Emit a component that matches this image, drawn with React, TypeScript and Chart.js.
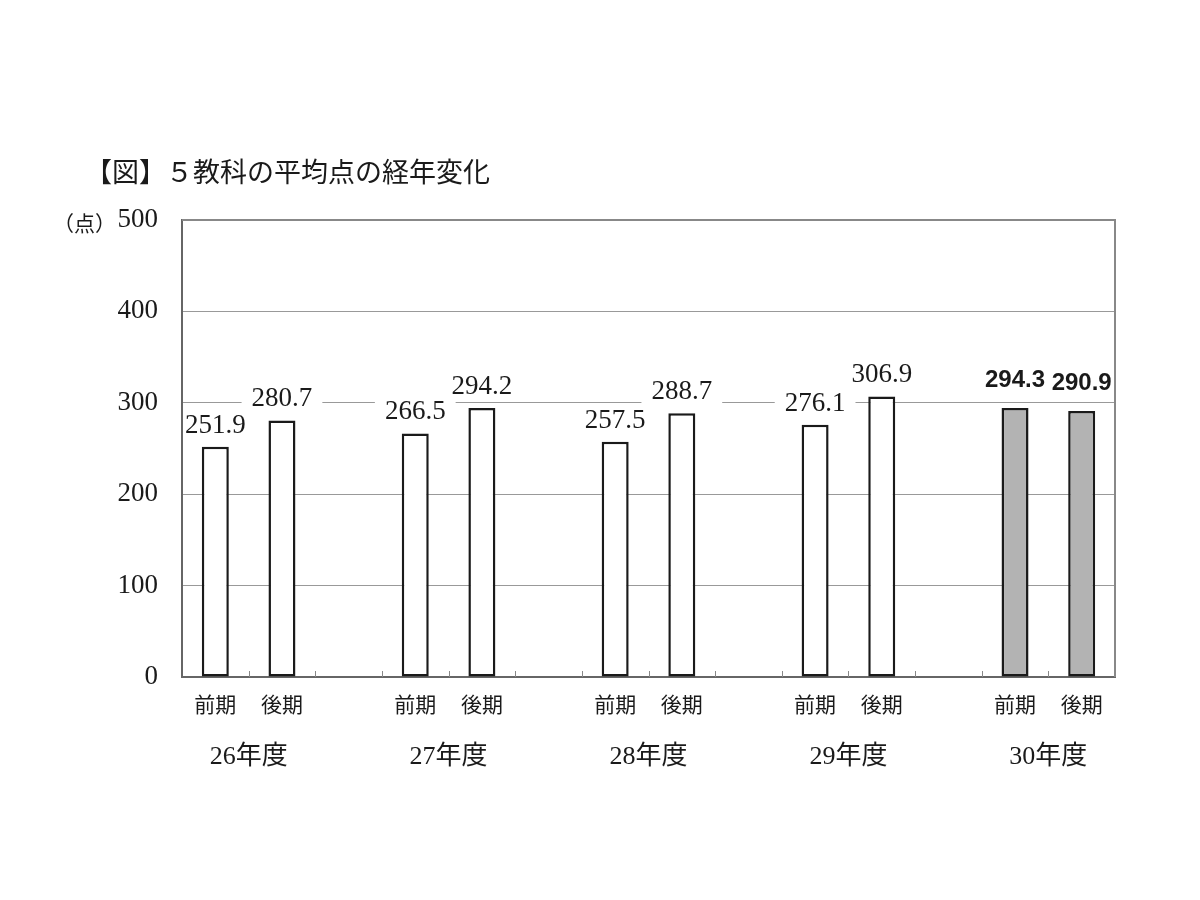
import React, { useEffect, useRef } from "react";
import { Chart, registerables } from "chart.js";

Chart.register(...registerables);

const years = ["26年度", "27年度", "28年度", "29年度", "30年度"];
const termLabels = ["前期", "後期"];
const zenki = [251.9, 266.5, 257.5, 276.1, 294.3];
const kouki = [280.7, 294.2, 288.7, 306.9, 290.9];
const highlightYear = "30年度";
const yTicks = [0, 100, 200, 300, 400, 500];
const title = "【図】５教科の平均点の経年変化";
const unitLabel = "（点）";

const SERIF = '"Liberation Serif", "DejaVu Serif", "Noto Sans CJK JP", serif';
const CJK = '"Noto Sans CJK JP", sans-serif';
const TEXT = "#1a1a1a";

// Build 14-slot arrays: [前期, 後期, gap] x 5 (last gap dropped)
const slotLabels: string[] = [];
const slotValues: (number | null)[] = [];
const slotYear: (string | null)[] = [];
years.forEach((y, i) => {
  slotLabels.push(termLabels[0], termLabels[1]);
  slotValues.push(zenki[i], kouki[i]);
  slotYear.push(y, y);
  if (i < years.length - 1) {
    slotLabels.push("");
    slotValues.push(null);
    slotYear.push(null);
  }
});

const decorPlugin = {
  id: "decor",
  afterDraw(chart: any) {
    const { ctx, chartArea } = chart;
    const { left, right, top, bottom } = chartArea;
    const slotW = (right - left) / slotLabels.length;
    ctx.save();
    // top and right border
    ctx.strokeStyle = "#888";
    ctx.lineWidth = 2;
    ctx.beginPath();
    ctx.moveTo(left, top);
    ctx.lineTo(right, top);
    ctx.lineTo(right, bottom);
    ctx.stroke();
    // inward ticks at slot boundaries
    ctx.lineWidth = 1;
    ctx.strokeStyle = "#888";
    for (let k = 1; k < slotLabels.length; k++) {
      const x = Math.round(left + k * slotW) + 0.5;
      ctx.beginPath();
      ctx.moveTo(x, bottom);
      ctx.lineTo(x, bottom - 6);
      ctx.stroke();
    }
    // title
    ctx.fillStyle = TEXT;
    ctx.textBaseline = "middle";
    ctx.textAlign = "left";
    ctx.font = `27px ${CJK}`;
    ctx.fillText(title, 77, 164);
    // unit label
    ctx.textAlign = "right";
    ctx.font = `21px ${CJK}`;
    ctx.fillText(unitLabel, 108, 215);
    // year labels
    ctx.textAlign = "center";
    ctx.font = `26px ${SERIF}`;
    const meta = chart.getDatasetMeta(0);
    years.forEach((y, i) => {
      const a = meta.data[i * 3];
      const b = meta.data[i * 3 + 1];
      const cx = (a.x + b.x) / 2;
      ctx.fillText(y, cx, 749);
    });
    ctx.restore();
  },
  afterDatasetsDraw(chart: any) {
    const { ctx, chartArea } = chart;
    const meta = chart.getDatasetMeta(0);
    const items: any[] = [];
    slotValues.forEach((v, i) => {
      if (v === null) return;
      const el = meta.data[i];
      const bold = slotYear[i] === highlightYear;
      const text = v.toFixed(1);
      const font = bold ? `bold 24px "Liberation Sans", Arial, sans-serif` : `27px ${SERIF}`;
      const base = el.y - (bold ? 21 : 14);
      items.push({ x: el.x, base, bold, text, font });
    });
    ctx.save();
    // white boxes (clipped inside the plot frame)
    ctx.beginPath();
    ctx.rect(chartArea.left + 1.5, chartArea.top + 1.5, chartArea.right - chartArea.left - 3, chartArea.bottom - chartArea.top - 3);
    ctx.clip();
    ctx.fillStyle = "#ffffff";
    items.forEach((it) => {
      ctx.font = it.font;
      const w = ctx.measureText(it.text).width;
      const h = it.bold ? 17 : 18;
      ctx.fillRect(it.x - w / 2 - 10, it.base - h - 5, w + 20, h + 10);
    });
    ctx.restore();
    ctx.save();
    ctx.textAlign = "center";
    ctx.textBaseline = "alphabetic";
    ctx.fillStyle = TEXT;
    items.forEach((it) => {
      ctx.font = it.font;
      ctx.fillText(it.text, it.x, it.base);
    });
    ctx.restore();
  },
};

export default function App() {
  const ref = useRef<HTMLCanvasElement>(null);
  useEffect(() => {
    if (!ref.current) return;
    const chart = new Chart(ref.current, {
      type: "bar",
      data: {
        labels: slotLabels,
        datasets: [
          {
            data: slotValues as any,
            backgroundColor: slotYear.map((y) => (y === highlightYear ? "#b3b3b3" : "#ffffff")),
            borderColor: "#1a1a1a",
            borderWidth: 2.5,
            borderSkipped: false,
            barPercentage: 0.405,
            categoryPercentage: 1,
          },
        ],
      },
      options: {
        responsive: false,
        animation: false,
        layout: { padding: { top: 212, right: 77, left: 0, bottom: 0 } },
        plugins: {
          legend: { display: false },
          tooltip: { enabled: false },
          title: { display: false },
        },
        scales: {
          x: {
            afterFit: (scale: any) => {
              scale.height = 215;
            },
            grid: { display: false, drawTicks: false },
            border: { display: true, color: "#666", width: 2 },
            ticks: {
              color: TEXT,
              font: { family: CJK, size: 21 },
              padding: 14,
              maxRotation: 0,
              autoSkip: false,
            },
          },
          y: {
            min: 0,
            max: 500,
            afterFit: (scale: any) => {
              scale.width = 174;
            },
            afterBuildTicks: (scale: any) => {
              scale.ticks = yTicks.map((v) => ({ value: v }));
            },
            grid: { color: "#999", lineWidth: 1, drawTicks: false },
            border: { display: true, color: "#666", width: 2 },
            ticks: {
              color: TEXT,
              font: { family: SERIF, size: 27 },
              padding: 24,
            },
          },
        },
      },
      plugins: [decorPlugin],
    });
    return () => chart.destroy();
  }, []);
  return (
    <div style={{ width: 1184, height: 884 }}>
      <canvas ref={ref} width={1184} height={884} style={{ display: "block" }} />
    </div>
  );
}
